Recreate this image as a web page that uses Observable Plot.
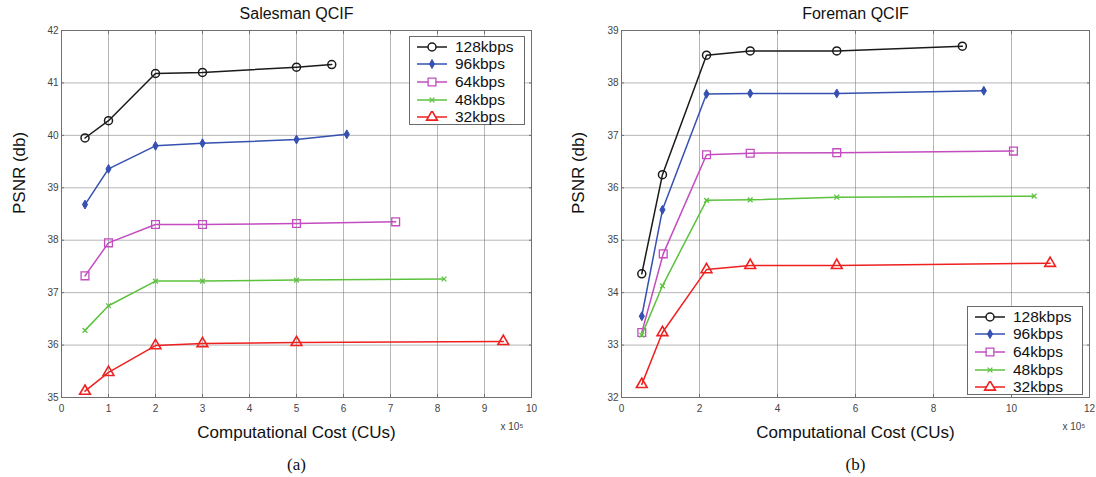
<!DOCTYPE html>
<html>
<head>
<meta charset="utf-8">
<script src="https://cdn.jsdelivr.net/npm/d3@7"></script>
<script src="https://cdn.jsdelivr.net/npm/@observablehq/plot@0.6"></script>
<style>
  body { margin: 0; background: #fff; font-family: "Liberation Sans", Arial, sans-serif; }
  #wrap { position: relative; width: 1096px; height: 477px; display: flex; }
  .panel { position: relative; width: 548px; height: 477px; }
  .panel svg { display: block; }
  .legend { position: absolute; border: 1px solid #6a6a6a; background: #fff; box-sizing: border-box;
            width: 116px; height: 89px; padding-top: 1px; }
  .row { display: flex; align-items: center; height: 17.6px; font-size: 15.5px; color: #111; }
  .row svg { margin-left: 7px; margin-right: 8px; }
</style>
</head>
<body>
<div id="wrap"></div>
<script>
// ---- data (cost in units of 10^5 CUs, PSNR in dB) ----
const rates = ["128kbps", "96kbps", "64kbps", "48kbps", "32kbps"];
const colors = ["#1a1a1a", "#3550b0", "#c24cc0", "#5cc23e", "#ee2020"];
const symbols = ["circle", "diamond", "square", "times", "triangle"];

// Salesman QCIF
const salesmanCost = [
  [0.5, 1, 2, 3, 5, 5.75],
  [0.5, 1, 2, 3, 5, 6.07],
  [0.5, 1, 2, 3, 5, 7.11],
  [0.5, 1, 2, 3, 5, 8.14],
  [0.5, 1, 2, 3, 5, 9.40]
];
const salesmanPSNR = [
  [39.95, 40.28, 41.18, 41.20, 41.30, 41.35],
  [38.68, 39.36, 39.80, 39.85, 39.92, 40.02],
  [37.32, 37.95, 38.30, 38.30, 38.32, 38.35],
  [36.28, 36.75, 37.22, 37.22, 37.24, 37.26],
  [35.12, 35.48, 35.99, 36.03, 36.05, 36.07]
];

// Foreman QCIF
const foremanCost = [
  [0.52, 1.05, 2.18, 3.3, 5.52, 8.74],
  [0.52, 1.05, 2.18, 3.3, 5.52, 9.29],
  [0.52, 1.07, 2.18, 3.3, 5.52, 10.05],
  [0.52, 1.05, 2.18, 3.3, 5.52, 10.58],
  [0.52, 1.05, 2.18, 3.3, 5.52, 10.99]
];
const foremanPSNR = [
  [34.36, 36.25, 38.53, 38.61, 38.61, 38.70],
  [33.55, 35.58, 37.79, 37.80, 37.80, 37.85],
  [33.24, 34.74, 36.63, 36.66, 36.67, 36.70],
  [33.19, 34.13, 35.76, 35.77, 35.82, 35.84],
  [32.25, 33.24, 34.44, 34.52, 34.52, 34.56]
];

const salesmanXTicks = [0, 1, 2, 3, 4, 5, 6, 7, 8, 9, 10];
const salesmanYTicks = [35, 36, 37, 38, 39, 40, 41, 42];
const foremanXTicks = [0, 2, 4, 6, 8, 10, 12];
const foremanYTicks = [32, 33, 34, 35, 36, 37, 38, 39];

const symbolStyle = {
  circle:   {r: 4,   fill: "none", strokeWidth: 1.5},
  diamond:  {r: 2.7, fill: "currentStroke", strokeWidth: 1},
  square:   {r: 4.4, fill: "none", strokeWidth: 1.3},
  times:    {r: 2.3, fill: "none", strokeWidth: 1.3},
  triangle: {r: 4.0, fill: "none", strokeWidth: 1.6}
};

function tidy(costs, psnrs) {
  const rows = [];
  rates.forEach((rate, i) => costs[i].forEach((c, j) => rows.push({rate, cost: c, psnr: psnrs[i][j]})));
  return rows;
}

function makePanel(cfg) {
  const data = tidy(cfg.costs, cfg.psnrs);
  const fmt = d => String(d);
  const marks = [
    Plot.gridX(cfg.xTicks, {stroke: "#7a7a7a", strokeOpacity: 0.55, strokeWidth: 1}),
    Plot.gridY(cfg.yTicks, {stroke: "#7a7a7a", strokeOpacity: 0.55, strokeWidth: 1}),
    Plot.frame({stroke: "#707070", strokeWidth: 1}),
    Plot.axisX(cfg.xTicks, {tickSize: 0, tickPadding: 7, fontSize: 10, fill: "#444", label: null, tickFormat: fmt}),
    Plot.axisY(cfg.yTicks, {tickSize: 0, tickPadding: 3, fontSize: 10, fill: "#444", label: null, tickFormat: fmt}),
    Plot.axisX(cfg.xTicks, {anchor: "bottom", tickSize: -3, stroke: "#707070", text: null, label: null}),
    Plot.axisX(cfg.xTicks, {anchor: "top", tickSize: -3, stroke: "#707070", text: null, label: null}),
    Plot.axisY(cfg.yTicks, {anchor: "left", tickSize: -3, stroke: "#707070", text: null, label: null}),
    Plot.axisY(cfg.yTicks, {anchor: "right", tickSize: -3, stroke: "#707070", text: null, label: null}),
  ];
  rates.forEach((rate, i) => {
    const sub = data.filter(d => d.rate === rate);
    marks.push(Plot.line(sub, {x: "cost", y: "psnr", stroke: colors[i], strokeWidth: 1.5}));
    const st = symbolStyle[symbols[i]];
    marks.push(Plot.dot(sub, {x: "cost", y: "psnr", symbol: symbols[i], r: st.r,
      stroke: colors[i], fill: st.fill === "currentStroke" ? colors[i] : "white",
      fillOpacity: st.fill === "none" ? 0 : 1, strokeWidth: st.strokeWidth}));
  });
  marks.push(
    Plot.text([cfg.title], {frameAnchor: "top", dy: -17, fontSize: 16, fill: "#111", lineAnchor: "middle"}),
    Plot.text(["Computational Cost (CUs)"], {frameAnchor: "bottom", dy: 35, fontSize: 17, fill: "#111", lineAnchor: "middle"}),
    Plot.text(["PSNR (db)"], {frameAnchor: "left", dx: cfg.yLabelDx, rotate: -90, fontSize: 17, fill: "#111"}),
    Plot.text(["x 10\u2075"], {frameAnchor: "bottom-right", dx: cfg.expDx, dy: 29, textAnchor: "end", fontSize: 10, fill: "#444", lineAnchor: "middle"}),
    Plot.text([cfg.tag], {frameAnchor: "bottom", dy: 67, fontSize: 17, fontFamily: "Liberation Serif, Times New Roman, serif", fill: "#111", lineAnchor: "middle"})
  );
  return Plot.plot({
    width: 548, height: 477,
    marginLeft: cfg.marginLeft, marginRight: cfg.marginRight, marginTop: 30, marginBottom: 80,
    x: {domain: cfg.xDomain},
    y: {domain: cfg.yDomain},
    style: {fontFamily: "Liberation Sans, Arial, sans-serif", background: "white"},
    marks
  });
}

function swatch(i) {
  const ns = "http://www.w3.org/2000/svg";
  const svg = document.createElementNS(ns, "svg");
  svg.setAttribute("width", 30); svg.setAttribute("height", 12);
  const line = document.createElementNS(ns, "line");
  line.setAttribute("x1", 0); line.setAttribute("x2", 30); line.setAttribute("y1", 6); line.setAttribute("y2", 6);
  line.setAttribute("stroke", colors[i]); line.setAttribute("stroke-width", 1.5);
  svg.appendChild(line);
  const sym = {circle: d3.symbolCircle, diamond: d3.symbolDiamond, square: d3.symbolSquare, times: d3.symbolTimes, triangle: d3.symbolTriangle}[symbols[i]];
  const st = symbolStyle[symbols[i]];
  const p = document.createElementNS(ns, "path");
  p.setAttribute("d", d3.symbol(sym, Math.PI * st.r * st.r)());
  p.setAttribute("transform", "translate(15,6)");
  p.setAttribute("stroke", colors[i]);
  p.setAttribute("stroke-width", st.strokeWidth);
  p.setAttribute("fill", st.fill === "currentStroke" ? colors[i] : "white");
  svg.appendChild(p);
  return svg;
}

function legend(left, top) {
  const box = document.createElement("div");
  box.className = "legend";
  box.style.left = left + "px"; box.style.top = top + "px";
  rates.forEach((rate, i) => {
    const row = document.createElement("div");
    row.className = "row";
    row.appendChild(swatch(i));
    const t = document.createElement("span"); t.textContent = rate;
    row.appendChild(t);
    box.appendChild(row);
  });
  return box;
}

const wrap = document.getElementById("wrap");
const p1 = document.createElement("div"); p1.className = "panel";
p1.appendChild(makePanel({title: "Salesman QCIF", tag: "(a)", costs: salesmanCost, psnrs: salesmanPSNR,
  xTicks: salesmanXTicks, yTicks: salesmanYTicks, xDomain: [0, 10], yDomain: [35, 42],
  marginLeft: 61, marginRight: 17, yLabelDx: -42, expDx: -8}));
p1.appendChild(legend(409, 36));
const p2 = document.createElement("div"); p2.className = "panel";
p2.appendChild(makePanel({title: "Foreman QCIF", tag: "(b)", costs: foremanCost, psnrs: foremanPSNR,
  xTicks: foremanXTicks, yTicks: foremanYTicks, xDomain: [0, 12], yDomain: [32, 39],
  marginLeft: 73, marginRight: 7, yLabelDx: -43, expDx: -4}));
p2.appendChild(legend(419, 306));
wrap.appendChild(p1); wrap.appendChild(p2);
</script>
</body>
</html>
